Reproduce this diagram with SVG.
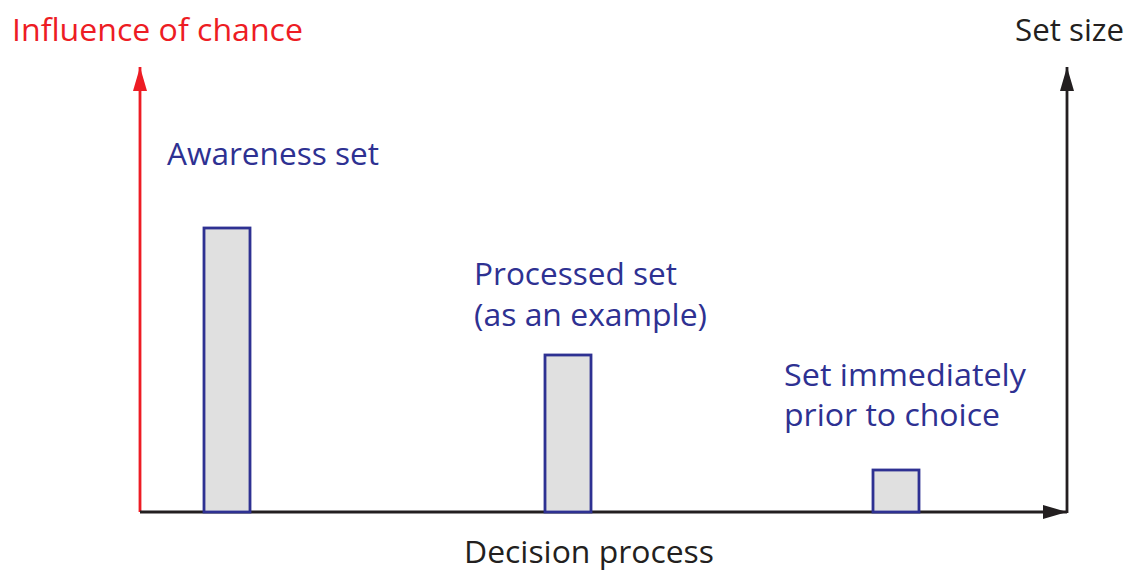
<svg xmlns="http://www.w3.org/2000/svg" width="1134" height="573" viewBox="0 0 1134 573">
<style>
text{font-family:"Open Sans","Noto Sans","Liberation Sans",sans-serif;font-size:31px}
.blue{fill:#2e3192}
.red{fill:#ed1c24}
.blk{fill:#231f20}
.bar{fill:#e0e0e0;stroke:#2e3192;stroke-width:2.8}
</style>
<defs>
<marker id="ar" viewBox="0 0 24 14" refX="24" refY="7" markerWidth="24" markerHeight="14" markerUnits="userSpaceOnUse" orient="auto">
<path d="M0,0 L24,7 L0,14 Z" fill="#231f20"/>
</marker>
<marker id="arr" viewBox="0 0 24 14" refX="24" refY="7" markerWidth="24" markerHeight="14" markerUnits="userSpaceOnUse" orient="auto">
<path d="M0,0 L24,7 L0,14 Z" fill="#ed1c24"/>
</marker>
</defs>
<g id="connectors">
<line x1="140" y1="512" x2="140" y2="67" stroke="#ed1c24" stroke-width="2.8" marker-end="url(#arr)"/>
<line x1="140" y1="512" x2="1067" y2="512" stroke="#231f20" stroke-width="2.8" marker-end="url(#ar)"/>
<line x1="1067" y1="513" x2="1067" y2="67" stroke="#231f20" stroke-width="2.8" marker-end="url(#ar)"/>
</g>
<g id="axis-labels">
<text class="red" x="12" y="41" textLength="291" lengthAdjust="spacingAndGlyphs">Influence of chance</text>
<text class="blk" x="1015" y="41" textLength="109" lengthAdjust="spacingAndGlyphs">Set size</text>
<text class="blk" x="464" y="563" textLength="250" lengthAdjust="spacingAndGlyphs">Decision process</text>
</g>
<g id="awareness">
<rect class="bar" x="204" y="228" width="46" height="284"/>
<text class="blue" x="167" y="165" textLength="212" lengthAdjust="spacingAndGlyphs">Awareness set</text>
</g>
<g id="processed">
<rect class="bar" x="545" y="355" width="46" height="157"/>
<text class="blue" x="474" y="285" textLength="203" lengthAdjust="spacingAndGlyphs">Processed set</text>
<text class="blue" x="474" y="326" textLength="233" lengthAdjust="spacingAndGlyphs">(as an example)</text>
</g>
<g id="choice">
<rect class="bar" x="873" y="470" width="46" height="42"/>
<text class="blue" x="784" y="386" textLength="242" lengthAdjust="spacingAndGlyphs">Set immediately</text>
<text class="blue" x="784" y="426" textLength="216" lengthAdjust="spacingAndGlyphs">prior to choice</text>
</g>
</svg>
